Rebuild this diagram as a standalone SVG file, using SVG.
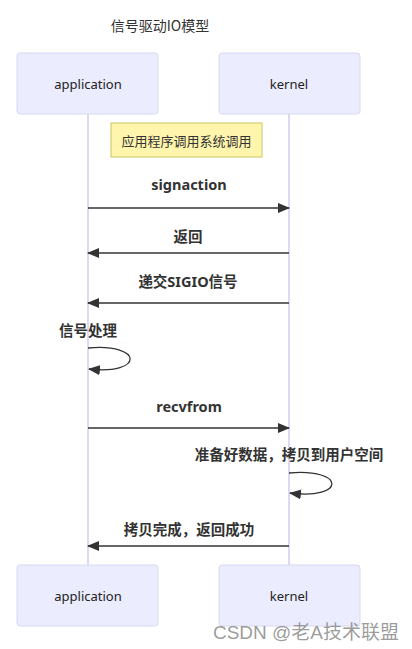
<svg xmlns="http://www.w3.org/2000/svg" width="412" height="649" viewBox="0 0 412 649">
<style>
.actor{fill:#ECECFF;stroke:#D8D8F2;stroke-width:1}
.atext{font-family:"Noto Sans","Noto Sans CJK SC",sans-serif;font-size:13px;fill:#222;text-anchor:middle;dominant-baseline:central}
.life{stroke:#D0CCF0;stroke-width:1.5}
.msg{stroke:#333;stroke-width:1.3;fill:none}
.mtext{font-family:"Noto Sans","Noto Sans CJK SC",sans-serif;font-size:14.5px;font-weight:bold;fill:#333;text-anchor:middle}
</style>
<defs>
<marker id="ah" viewBox="0 0 12 10" refX="11" refY="5" markerWidth="12" markerHeight="10" markerUnits="userSpaceOnUse" orient="auto">
<path d="M0,0 L12,5 L0,10 z" fill="#333"/>
</marker>
</defs>
<rect width="412" height="649" fill="#fff"/>
<text x="160" y="25" font-family="'Noto Sans CJK SC',sans-serif" font-size="14" fill="#333" text-anchor="middle" dominant-baseline="central">信号驱动IO模型</text>
<g id="lifelines">
<line class="life" x1="88" y1="114" x2="88" y2="565"/>
<line class="life" x1="289" y1="114" x2="289" y2="565"/>
</g>
<g id="actor-application-top"><rect class="actor" x="17" y="53" width="141" height="61" rx="3"/><text class="atext" x="88" y="84">application</text></g>
<g id="actor-kernel-top"><rect class="actor" x="219" y="53" width="141" height="61" rx="3"/><text class="atext" x="289" y="84">kernel</text></g>
<g id="actor-application-bottom"><rect class="actor" x="17" y="565" width="141" height="61" rx="3"/><text class="atext" x="88" y="596">application</text></g>
<g id="actor-kernel-bottom"><rect class="actor" x="219" y="565" width="141" height="61" rx="3"/><text class="atext" x="289" y="596">kernel</text></g>
<g id="note"><rect x="111" y="123" width="151" height="34" fill="#FFF5AD" stroke="#C8C860" stroke-width="1"/><text x="186.5" y="140" font-family="'Noto Sans CJK SC',sans-serif" font-size="13" fill="#333" text-anchor="middle" dominant-baseline="central">应用程序调用系统调用</text></g>
<g id="connectors">
<text class="mtext" x="189" y="190">signaction</text>
<line class="msg" x1="88" y1="208" x2="289" y2="208" marker-end="url(#ah)"/>
<text class="mtext" x="188" y="242">返回</text>
<line class="msg" x1="289" y1="253" x2="88" y2="253" marker-end="url(#ah)"/>
<text class="mtext" x="188" y="287">递交SIGIO信号</text>
<line class="msg" x1="289" y1="303" x2="88" y2="303" marker-end="url(#ah)"/>
<text class="mtext" x="88" y="336">信号处理</text>
<path class="msg" d="M88,348 C144,343 144,375 89,369" marker-end="url(#ah)"/>
<text class="mtext" x="189" y="412">recvfrom</text>
<line class="msg" x1="88" y1="428" x2="289" y2="428" marker-end="url(#ah)"/>
<text class="mtext" x="289" y="460">准备好数据，拷贝到用户空间</text>
<path class="msg" d="M289,473 C346,468 346,500 290,493" marker-end="url(#ah)"/>
<text class="mtext" x="189" y="535">拷贝完成，返回成功</text>
<line class="msg" x1="289" y1="546" x2="88" y2="546" marker-end="url(#ah)"/>
</g>
<text x="306" y="632" font-family="'Liberation Sans','Noto Sans CJK SC',sans-serif" font-size="19" fill="#8a8a8a" fill-opacity="0.85" text-anchor="middle" dominant-baseline="central">CSDN @老A技术联盟</text>
</svg>
